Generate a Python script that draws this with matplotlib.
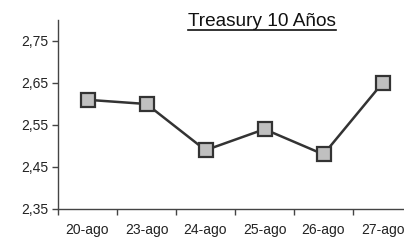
import matplotlib
matplotlib.use("Agg")
import matplotlib.pyplot as plt
from matplotlib.lines import Line2D

categories = ["20-ago", "23-ago", "24-ago", "25-ago", "26-ago", "27-ago"]
values = [2.61, 2.60, 2.49, 2.54, 2.48, 2.65]
yticks = [2.35, 2.45, 2.55, 2.65, 2.75]
ytick_labels = ["2,35", "2,45", "2,55", "2,65", "2,75"]
title = "Treasury 10 Años"

plt.rcParams['font.family'] = ['Liberation Sans', 'DejaVu Sans']
fig = plt.figure(figsize=(4.04, 2.40), dpi=100)
ax = fig.add_axes([58/404, 31/240, 354/404, 189/240])

x = list(range(len(categories)))
ax.plot(x, values, color="#333333", lw=1.8, marker="s", markersize=10,
        markerfacecolor="#c0c0c0", markeredgecolor="#333333", markeredgewidth=1.6,
        clip_on=False, zorder=3)

ax.set_xlim(-0.5, len(categories) - 0.5)
ax.set_ylim(2.35, 2.80)
ax.set_yticks(yticks)
ax.set_yticklabels(ytick_labels)
ax.set_xticks([i - 0.5 for i in range(len(categories))], minor=False)
ax.set_xticklabels([])
ax.set_xticks(x, minor=True)
ax.set_xticklabels(categories, minor=True)
ax.tick_params(axis="x", which="minor", length=0, pad=10, labelsize=10, labelcolor="#222222")
ax.tick_params(axis="x", which="major", length=4, width=1, color="#444444", direction="out")
ax.tick_params(axis="y", length=4, width=1, color="#444444", direction="out", pad=3,
               labelsize=10, labelcolor="#222222")

for s in ["top", "right"]:
    ax.spines[s].set_visible(False)
for s in ["left", "bottom"]:
    ax.spines[s].set_color("#444444")
    ax.spines[s].set_linewidth(1)

t = fig.text(262/404, 1 - 26/240, title, ha="center", va="baseline", fontsize=13.7, color="#111111")
fig.canvas.draw()
bb = t.get_window_extent(renderer=fig.canvas.get_renderer())
inv = fig.transFigure.inverted()
(x0, _), (x1, _) = inv.transform([(bb.x0, 0), (bb.x1, 0)])
yl = 1 - 29.5/240
fig.add_artist(Line2D([x0, x1], [yl, yl], transform=fig.transFigure, color="#111111", lw=1.2))

fig.savefig("out.png", dpi=100)
